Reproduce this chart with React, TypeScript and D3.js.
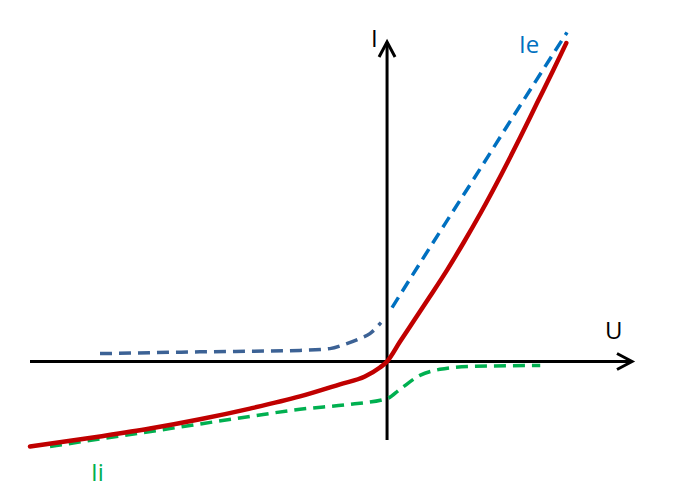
import { useRef, useEffect } from 'react'
import * as d3 from 'd3'

// schematic I-U characteristic (arbitrary units)
const redU = [-10, -8.04, -6.64, -5.24, -3.84, -2.44, -1.32, -0.62, -0.2, 0, 0.36, 0.75, 1.2, 1.68, 2.15, 2.62, 3.2, 3.73, 4.2, 4.63, 5.02]
const redI = [-2.38, -2.1, -1.88, -1.62, -1.32, -0.98, -0.64, -0.42, -0.17, 0, 0.55, 1.14, 1.82, 2.56, 3.34, 4.16, 5.24, 6.28, 7.24, 8.11, 8.92]

const ieLowU = [-8.04, -5.24, -2.44, -1.6, -1.18, -0.76, -0.48, -0.17]
const ieLowI = [0.22, 0.27, 0.31, 0.36, 0.48, 0.64, 0.78, 1.09]
const ieHighU = [0.14, 0.92, 1.76, 2.61, 3.36, 5.04]
const ieHighI = [1.51, 2.75, 4.07, 5.4, 6.59, 9.22]

const iiU = [-9.44, -6.08, -3.84, -2.44, -1.04, 0, 0.36, 0.92, 1.48, 2.32, 4.29]
const iiI = [-2.38, -1.88, -1.54, -1.34, -1.2, -1.04, -0.78, -0.39, -0.22, -0.14, -0.11]

const uRange = [-10, 6.86]
const iRange = [-2.2, 8.95]

const width = 700
const height = 503

const zip = (u: number[], i: number[]) => u.map((d, k) => [d, i[k]] as [number, number])

const App = () => {
	const svgRef = useRef<SVGSVGElement | null>(null)

	useEffect(() => {
		if (!svgRef.current) return
		const svg = d3.select(svgRef.current)
		svg.selectAll('*').remove()

		const x = d3.scaleLinear().domain(uRange).range([30, 632])
		const y = d3.scaleLinear().domain(iRange).range([440, 42])

		const line = d3
			.line<[number, number]>()
			.x((d) => x(d[0]))
			.y((d) => y(d[1]))
			.curve(d3.curveMonotoneX)

		// axes
		const ax = svg.append('g').attr('stroke', '#000').attr('stroke-width', 3).attr('fill', 'none')
		ax.append('line').attr('x1', x(uRange[0])).attr('x2', x(uRange[1])).attr('y1', y(0)).attr('y2', y(0))
		ax.append('line').attr('x1', x(0)).attr('x2', x(0)).attr('y1', y(iRange[0])).attr('y2', y(iRange[1]))
		const tx = x(uRange[1])
		const ty = y(iRange[1])
		ax.append('path')
			.attr('stroke-linejoin', 'miter')
			.attr('d', `M${tx - 15},${y(0) - 8}L${tx},${y(0)}L${tx - 15},${y(0) + 8}`)
		ax.append('path')
			.attr('stroke-linejoin', 'miter')
			.attr('d', `M${x(0) - 8},${ty + 15}L${x(0)},${ty}L${x(0) + 8},${ty + 15}`)

		// curves
		const dashed = (u: number[], i: number[], color: string) =>
			svg.append('path')
				.attr('d', line(zip(u, i)))
				.attr('fill', 'none')
				.attr('stroke', color)
				.attr('stroke-width', 3.5)
				.attr('stroke-dasharray', '12,7')
		dashed(ieLowU, ieLowI, '#3c6295')
		dashed(ieHighU, ieHighI, '#0070c0')
		dashed(iiU, iiI, '#00b050')
		svg.append('path')
			.attr('d', line(zip(redU, redI)))
			.attr('fill', 'none')
			.attr('stroke', '#c00000')
			.attr('stroke-width', 4.5)
			.attr('stroke-linecap', 'round')

		// labels
		const lab = svg.append('g').attr('font-family', '"Open Sans", sans-serif').attr('font-size', 24)
		lab.append('text').attr('x', 371).attr('y', 47).attr('fill', '#000').text('I')
		lab.append('text').attr('x', 605).attr('y', 339).attr('fill', '#000').text('U')
		lab.append('text').attr('x', 519).attr('y', 53).attr('fill', '#0070c0').text('Ie')
		lab.append('text').attr('x', 91).attr('y', 481).attr('fill', '#00b050').text('Ii')
	}, [])

	return (
		<svg
			ref={svgRef}
			width={width}
			height={height}
			style={{ position: 'absolute', left: 0, top: 0, background: '#fff' }}
		></svg>
	)
}

export default App
